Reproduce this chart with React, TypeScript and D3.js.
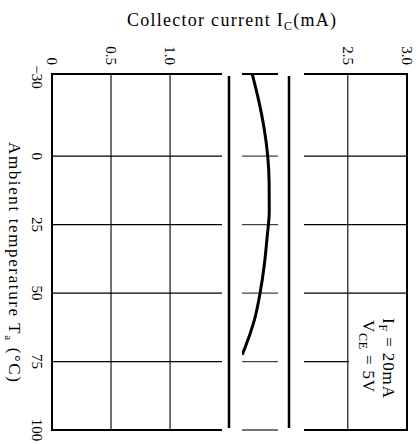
import React from "react";
import * as d3 from "d3";

// Ambient temperature (°C) and collector current (mA), IF = 20 mA, VCE = 5 V
const temps = [-30, -20, -10, 0, 10, 20, 30, 40, 50, 60, 70, 72.5];
const currents = [1.737, 1.793, 1.838, 1.868, 1.88, 1.881, 1.862, 1.838, 1.803, 1.754, 1.675, 1.651];

const tempTicks = [-30, 0, 25, 50, 75, 100];
const tempTickLabels = ["\u221230", "0", "25", "50", "75", "100"];
const currentTicksLow = [0, 0.5, 1.0];
const currentTicksHigh = [2.5, 3.0];

const W = 420;
const H = 444;

const tScale = d3.scaleLinear().domain([-30, 100]).range([74, 430]);
// broken current axis: three pieces
const segA = d3.scaleLinear().domain([0, 1.44]).range([52, 222]);
const segB = d3.scaleLinear().domain([1.65, 1.955]).range([242, 278]);
const segC = d3.scaleLinear().domain([2.13, 3.0]).range([304, 407]);

const FONT = "'Liberation Serif', 'DejaVu Serif', serif";

export default function App() {
  const data = temps.map((t, i) => ({ t, i: currents[i] }));
  const line = d3
    .line<{ t: number; i: number }>()
    .x((d) => segB(d.i))
    .y((d) => tScale(d.t))
    .curve(d3.curveMonotoneY);

  const y0 = tScale(-30);
  const y1 = tScale(100);
  const innerTicks = tempTicks.slice(1, -1);

  return (
    <svg
      width={W}
      height={H}
      style={{ position: "absolute", left: 0, top: 0, background: "#fff" }}
      fontFamily={FONT}
    >
      <rect width={W} height={H} fill="#fff" />

      {/* title */}
      <text x={127} y={26} fontSize={18} textLength={209} lengthAdjust="spacing" fill="#000">
        Collector current I
        <tspan dy={4} fontSize={12}>C</tspan>
        <tspan dy={-4}>(mA)</tspan>
      </text>

      {/* left panel */}
      <g stroke="#000" fill="none">
        {innerTicks.map((t) => (
          <line key={t} x1={segA(0)} x2={segA.range()[1]} y1={tScale(t)} y2={tScale(t)} strokeWidth={1.3} />
        ))}
        {currentTicksLow.slice(1).map((c) => (
          <line key={c} x1={segA(c)} x2={segA(c)} y1={y0} y2={y1} strokeWidth={1.1} />
        ))}
        <line x1={segA(0)} x2={segA.range()[1]} y1={y0} y2={y0} strokeWidth={2} />
        <line x1={segA(0)} x2={segA.range()[1]} y1={y1} y2={y1} strokeWidth={2} />
        <line x1={segA(0)} x2={segA(0)} y1={y0 - 1} y2={y1 + 1} strokeWidth={2} />
      </g>

      {/* axis break bars */}
      <g stroke="#000" strokeWidth={2.5}>
        <line x1={229} x2={229} y1={y0 + 2} y2={y1 - 2} />
        <line x1={289} x2={289} y1={y0 + 2} y2={y1 - 2} />
      </g>

      {/* middle panel */}
      <defs>
        <clipPath id="midClip">
          <rect x={segB.range()[0]} y={y0} width={segB.range()[1] - segB.range()[0]} height={y1 - y0} />
        </clipPath>
      </defs>
      <g stroke="#000">
        {innerTicks.map((t) => (
          <line key={t} x1={segB.range()[0]} x2={segB.range()[1]} y1={tScale(t)} y2={tScale(t)} strokeWidth={1.3} stroke="#444" />
        ))}
        <line x1={segB.range()[0]} x2={segB.range()[1]} y1={y0} y2={y0} strokeWidth={2.2} />
        <line x1={segB.range()[0]} x2={segB.range()[1]} y1={y1} y2={y1} strokeWidth={1.6} stroke="#444" />
      </g>
      <path d={line(data) ?? ""} fill="none" stroke="#000" strokeWidth={3} clipPath="url(#midClip)" />

      {/* right panel */}
      <g stroke="#000" fill="none">
        {innerTicks.map((t) => (
          <line key={t} x1={segC.range()[0]} x2={segC(3.0)} y1={tScale(t)} y2={tScale(t)} strokeWidth={1.3} />
        ))}
        <rect x={segC(2.5) + 1} y={tScale(50) + 1} width={segC(3.0) - segC(2.5) - 2} height={y1 - tScale(50) - 2} fill="#fff" stroke="none" />
        <line x1={segC(2.5)} x2={segC(2.5)} y1={y0} y2={y1} strokeWidth={1.1} />
        <line x1={segC.range()[0]} x2={segC(3.0)} y1={y0} y2={y0} strokeWidth={2} />
        <line x1={segC.range()[0]} x2={segC(3.0)} y1={y1} y2={y1} strokeWidth={2} />
        <line x1={segC(3.0)} x2={segC(3.0)} y1={y0 - 1} y2={y1 + 1} strokeWidth={2} />
      </g>

      {/* legend */}
      <g fontSize={17} fill="#000">
        <text transform={`translate(383,318) rotate(90)`} textLength={80} lengthAdjust="spacing">
          I<tspan dy={4} fontSize={12}>F</tspan>
          <tspan dy={-4}> = 20mA</tspan>
        </text>
        <text transform={`translate(363,320) rotate(90)`} textLength={72} lengthAdjust="spacing">
          V<tspan dy={4} fontSize={12}>CE</tspan>
          <tspan dy={-4}> = 5V</tspan>
        </text>
      </g>

      {/* current tick labels */}
      <g fontSize={15} fill="#000">
        {currentTicksLow.map((c) => (
          <text key={c} transform={`translate(${segA(c)},65) rotate(90)`} textAnchor="end" dy="0.35em">
            {d3.format(c === 0 ? "d" : ".1f")(c)}
          </text>
        ))}
        {currentTicksHigh.map((c) => (
          <text key={c} transform={`translate(${segC(c)},65) rotate(90)`} textAnchor="end" dy="0.35em">
            {d3.format(".1f")(c)}
          </text>
        ))}
      </g>

      {/* temperature tick labels */}
      <g fontSize={15} fill="#000">
        {tempTicks.map((t, k) => (
          <text key={t} transform={`translate(32,${tScale(t) + (k === 0 ? 3 : 0)}) rotate(90)`} textAnchor="middle">
            {tempTickLabels[k]}
          </text>
        ))}
      </g>

      {/* temperature axis title */}
      <text transform={`translate(9,142) rotate(90)`} fontSize={17} textLength={240} lengthAdjust="spacing" fill="#000">
        Ambient temperature  T
        <tspan dy={4} fontSize={11}>a</tspan>
        <tspan dy={-4}> (°C)</tspan>
      </text>
    </svg>
  );
}
